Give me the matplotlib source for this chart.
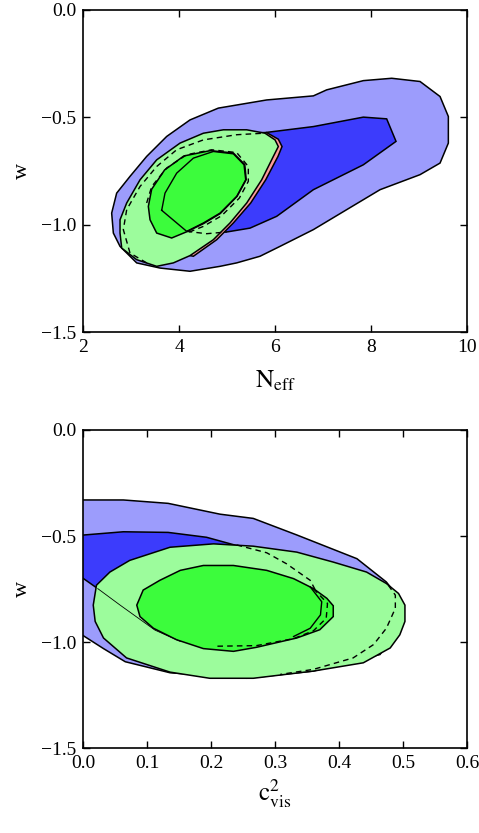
import numpy as np
import matplotlib.pyplot as plt

plt.rcParams['font.family'] = ['Liberation Serif', 'DejaVu Serif']
plt.rcParams['mathtext.fontset'] = 'stix'

# ---- top panel: N_eff vs w (contour outlines) ----
top_blue2 = [(2.632, -1.039), (2.597, -0.946), (2.701, -0.853), (2.979, -0.775), (3.326, -0.682),
             (3.743, -0.589), (4.229, -0.512), (4.819, -0.457), (5.826, -0.419), (6.799, -0.400),
             (7.076, -0.372), (7.840, -0.329), (8.431, -0.318), (9.021, -0.333), (9.438, -0.403),
             (9.611, -0.496), (9.611, -0.620), (9.438, -0.713), (9.021, -0.767), (8.188, -0.837),
             (7.493, -0.930), (6.799, -1.023), (6.104, -1.101), (5.688, -1.147), (5.201, -1.178),
             (4.854, -1.194), (4.229, -1.217), (3.604, -1.202), (3.118, -1.178), (2.771, -1.101)]
top_blue1 = [(5.792, -0.571), (6.799, -0.543), (7.840, -0.499), (8.326, -0.507), (8.521, -0.612),
             (7.840, -0.721), (6.799, -0.837), (6.035, -0.961), (5.479, -1.016), (4.993, -1.034),
             (4.368, -1.039), (3.674, -1.008), (3.326, -0.884), (3.743, -0.729), (4.368, -0.620),
             (5.062, -0.574)]
top_red2 = [(4.229, -1.144), (4.299, -1.147), (4.785, -1.070), (5.132, -0.992), (5.493, -0.899),
            (5.806, -0.791), (6.062, -0.682), (6.146, -0.636), (6.069, -0.602), (5.826, -0.571),
            (5.792, -0.574), (4.700, -0.650), (4.000, -0.900)]
top_green2 = [(2.771, -1.039), (2.806, -1.109), (3.118, -1.163), (3.535, -1.194), (3.882, -1.178),
              (4.229, -1.144), (4.715, -1.070), (5.062, -0.992), (5.410, -0.899), (5.722, -0.791),
              (5.965, -0.682), (6.069, -0.636), (6.000, -0.605), (5.792, -0.574), (5.410, -0.558),
              (4.924, -0.558), (4.507, -0.574), (4.021, -0.620), (3.535, -0.698), (3.188, -0.791),
              (2.910, -0.899), (2.771, -0.977)]
top_green1 = [(3.847, -1.062), (3.535, -1.039), (3.396, -0.977), (3.361, -0.915), (3.430, -0.835),
              (3.700, -0.745), (4.100, -0.680), (4.650, -0.655), (5.132, -0.666), (5.370, -0.720),
              (5.400, -0.790), (5.210, -0.868), (4.860, -0.948), (4.510, -0.995), (4.160, -1.033)]
top_alt1 = [(3.639, -0.933), (3.708, -0.853), (3.951, -0.760), (4.299, -0.690), (4.715, -0.659),
            (5.132, -0.670), (5.354, -0.721), (5.389, -0.791), (5.201, -0.868), (4.854, -0.946),
            (4.507, -0.992), (4.160, -1.031), (3.639, -0.933)]
top_dash1 = [(3.326, -0.899), (3.431, -0.822), (3.743, -0.736), (4.160, -0.674), (4.681, -0.651),
             (5.201, -0.664), (5.444, -0.729), (5.444, -0.798), (5.257, -0.876), (4.889, -0.958),
             (4.507, -1.008), (4.160, -1.039)]
top_dash2 = [(3.326, -1.178), (2.979, -1.132), (2.840, -1.023), (2.910, -0.930), (3.188, -0.822),
             (3.535, -0.729), (3.951, -0.651), (4.507, -0.605), (5.201, -0.581), (5.757, -0.574)]
top_dash3 = [(4.160, -1.031), (4.576, -1.042), (4.993, -1.034)]

# ---- bottom panel: c_vis^2 vs w ----
bot_blue2 = [(-0.01, -0.330), (0.063, -0.330), (0.133, -0.346), (0.214, -0.397), (0.266, -0.417),
             (0.334, -0.495), (0.428, -0.607), (0.474, -0.717), (0.498, -0.810), (0.493, -0.935),
             (0.464, -1.059), (0.360, -1.137), (0.256, -1.171), (0.136, -1.145), (0.066, -1.093),
             (0.032, -1.031), (-0.01, -0.950)]
bot_blue1 = [(-0.01, -0.498), (0.063, -0.480), (0.133, -0.483), (0.193, -0.506), (0.240, -0.545),
             (0.287, -0.576), (0.334, -0.639), (0.360, -0.717), (0.370, -0.810), (0.360, -0.903),
             (0.318, -0.981), (0.256, -1.020), (0.193, -1.012), (0.141, -0.981), (0.1125, -0.944),
             (0.023, -0.748), (-0.01, -0.678)]
bot_green2 = [(0.016, -0.826), (0.021, -0.732), (0.042, -0.670), (0.073, -0.615), (0.136, -0.553),
              (0.204, -0.537), (0.266, -0.548), (0.334, -0.576), (0.391, -0.623), (0.443, -0.670),
              (0.474, -0.724), (0.493, -0.771), (0.503, -0.826), (0.503, -0.903), (0.495, -0.966),
              (0.480, -1.028), (0.438, -1.098), (0.360, -1.137), (0.266, -1.171), (0.198, -1.171),
              (0.136, -1.142), (0.068, -1.075), (0.032, -0.981), (0.019, -0.903)]
bot_green1 = [(0.084, -0.826), (0.094, -0.755), (0.120, -0.709), (0.152, -0.662), (0.188, -0.639),
              (0.235, -0.639), (0.287, -0.662), (0.329, -0.701), (0.360, -0.748), (0.381, -0.794),
              (0.391, -0.829), (0.391, -0.880), (0.370, -0.942), (0.334, -0.981), (0.271, -1.025),
              (0.235, -1.044), (0.188, -1.031), (0.146, -0.989), (0.110, -0.935), (0.089, -0.880)]
bot_alt1 = [(0.355, -0.740), (0.373, -0.810), (0.371, -0.872), (0.355, -0.935), (0.329, -0.974)]
bot_dash1 = [(0.360, -0.748), (0.382, -0.818), (0.380, -0.888), (0.360, -0.947), (0.329, -0.984),
             (0.271, -1.017), (0.204, -1.020)]
bot_dash2 = [(0.240, -0.542), (0.287, -0.579), (0.318, -0.631), (0.355, -0.709), (0.363, -0.755)]
bot_dash3 = [(0.477, -0.732), (0.488, -0.779), (0.488, -0.841), (0.474, -0.935), (0.454, -1.012),
             (0.422, -1.075), (0.360, -1.129), (0.308, -1.153)]
bot_thin = [(0.023, -0.748), (0.058, -0.826), (0.1125, -0.944), (0.152, -0.997)]

w_ticks = [-1.5, -1.0, -0.5, 0.0]
w_labels = ['\u22121.5', '\u22121.0', '\u22120.5', '0.0']
neff_ticks = [2, 4, 6, 8, 10]
cvis_ticks = [0.0, 0.1, 0.2, 0.3, 0.4, 0.5, 0.6]
cvis_labels = ['0.0', '0.1', '0.2', '0.3', '0.4', '0.5', '0.6']

light_blue = '#9c9cfc'
dark_blue = '#3c3cfc'
light_green = '#9cfc9c'
bright_green = '#3cfc3c'
light_red = '#fc9c9c'


def fill(ax, pts, color):
    a = np.array(pts)
    ax.fill(a[:, 0], a[:, 1], facecolor=color, edgecolor='black', lw=1.1, zorder=2)


def line(ax, pts, dashed=False, lw=1.0):
    a = np.array(pts)
    if dashed:
        ax.plot(a[:, 0], a[:, 1], color='black', lw=lw, dashes=(4, 3), zorder=3)
    else:
        ax.plot(a[:, 0], a[:, 1], color='black', lw=lw, zorder=3)


fig = plt.figure(figsize=(4.79, 8.33), dpi=100)
ax1 = fig.add_axes([0.1733, 0.6014, 0.8017, 0.3866])
ax2 = fig.add_axes([0.1733, 0.1020, 0.8017, 0.3818])

fill(ax1, top_blue2, light_blue)
fill(ax1, top_blue1, dark_blue)
fill(ax1, top_red2, light_red)
fill(ax1, top_green2, light_green)
fill(ax1, top_green1, bright_green)
line(ax1, top_alt1)
line(ax1, top_dash1, dashed=True)
line(ax1, top_dash2, dashed=True)
line(ax1, top_dash3, dashed=True)

fill(ax2, bot_blue2, light_blue)
fill(ax2, bot_blue1, dark_blue)
fill(ax2, bot_green2, light_green)
fill(ax2, bot_green1, bright_green)
line(ax2, bot_alt1)
line(ax2, bot_thin, lw=0.6)
line(ax2, bot_dash1, dashed=True)
line(ax2, bot_dash2, dashed=True)
line(ax2, bot_dash3, dashed=True)

ax1.set_xlim(2, 10)
ax1.set_ylim(-1.5, 0.0)
ax1.set_xticks(neff_ticks)
ax1.set_yticks(w_ticks)
ax1.set_yticklabels(w_labels)
ax1.set_xlabel(r'$\mathrm{N_{eff}}$', fontsize=18, labelpad=9)
ax1.set_ylabel('w', fontsize=16, labelpad=6)

ax2.set_xlim(0, 0.6)
ax2.set_ylim(-1.5, 0.0)
ax2.set_xticks(cvis_ticks)
ax2.set_xticklabels(cvis_labels)
ax2.set_yticks(w_ticks)
ax2.set_yticklabels(w_labels)
ax2.set_xlabel(r'$\mathrm{c^2_{vis}}$', fontsize=18, labelpad=4)
ax2.set_ylabel('w', fontsize=16, labelpad=6)

for ax in (ax1, ax2):
    ax.tick_params(direction='in', top=True, right=True, length=5, width=1,
                   labelsize=14, pad=5)
    for s in ax.spines.values():
        s.set_linewidth(1.2)

fig.savefig('out.png', dpi=100)
